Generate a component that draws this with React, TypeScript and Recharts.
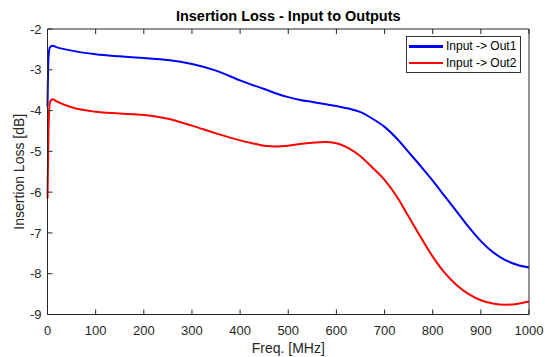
import { LineChart, Line, XAxis, YAxis, Legend } from 'recharts'

// frequency points (MHz) and insertion loss (dB)
const freq = [0, 2, 5, 10, 20, 50, 100, 150, 200, 250, 300, 350, 400, 425, 450, 475, 500, 525, 550, 575, 600, 625, 650, 675, 700, 725, 750, 775, 800, 825, 850, 875, 900, 925, 950, 975, 1000]
const out1 = [-3.9, -2.7, -2.45, -2.41, -2.45, -2.53, -2.62, -2.67, -2.71, -2.76, -2.86, -3.02, -3.26, -3.37, -3.47, -3.58, -3.67, -3.74, -3.79, -3.84, -3.89, -3.95, -4.04, -4.2, -4.4, -4.68, -5.02, -5.36, -5.72, -6.1, -6.48, -6.86, -7.2, -7.47, -7.66, -7.78, -7.85]
const out2 = [-6.15, -4.5, -3.8, -3.72, -3.78, -3.92, -4.03, -4.07, -4.11, -4.2, -4.37, -4.56, -4.73, -4.8, -4.86, -4.88, -4.86, -4.82, -4.79, -4.77, -4.8, -4.92, -5.12, -5.4, -5.7, -6.1, -6.6, -7.1, -7.58, -7.98, -8.28, -8.5, -8.65, -8.73, -8.76, -8.74, -8.68]

const xTicks = [0, 100, 200, 300, 400, 500, 600, 700, 800, 900, 1000]
const yTicks = [-9, -8, -7, -6, -5, -4, -3, -2]

const AXIS = '#262626'
const FONT = '"Liberation Sans", Arial, Helvetica, sans-serif'

const data = freq.map((f, i) => ({ f, out1: out1[i], out2: out2[i] }))

function BottomTick({ x, y, payload }: any) {
  return (
    <g>
      <line x1={x} y1={y} x2={x} y2={y - 5} stroke={AXIS} />
      <text x={x} y={y + 20.5} textAnchor="middle" fontSize={13} fill={AXIS} fontFamily={FONT}>{payload.value}</text>
    </g>
  )
}

function TopTick({ x, y }: any) {
  return <line x1={x} y1={y} x2={x} y2={y + 5} stroke={AXIS} />
}

function LeftTick({ x, y, payload }: any) {
  return (
    <g>
      <line x1={x} y1={y} x2={x + 5} y2={y} stroke={AXIS} />
      <text x={x - 6} y={y + 4.7} textAnchor="end" fontSize={13} fill={AXIS} fontFamily={FONT}>{payload.value}</text>
    </g>
  )
}

function RightTick({ x, y }: any) {
  return <line x1={x} y1={y} x2={x - 5} y2={y} stroke={AXIS} />
}

function LegendBox({ payload }: any) {
  return (
    <div style={{ border: '1px solid #333', background: '#fff', padding: '1px 4px 1px 2px', fontFamily: FONT }}>
      {(payload || []).map((p: any) => (
        <div key={p.value} style={{ display: 'flex', alignItems: 'center', height: 16.5 }}>
          <span style={{ display: 'inline-block', width: 34, height: 2.5, background: p.color, marginRight: 3 }} />
          <span style={{ fontSize: 12, color: '#000', lineHeight: '14px' }}>{p.value}</span>
        </div>
      ))}
    </div>
  )
}

export default function App() {
  return (
    <div style={{ position: 'absolute', left: 0, top: 0, background: '#fff' }}>
      <LineChart width={545} height={357} data={data} margin={{ top: 28, right: 15, bottom: 0, left: 0 }}>
        <XAxis
          dataKey="f" type="number" domain={[0, 1000]} ticks={xTicks} height={42.5}
          axisLine={{ stroke: AXIS }} tickLine={false} tickSize={0} tickMargin={0} tick={<BottomTick />}
          label={{
            content: ({ viewBox }: any) => (
              <text x={viewBox.x + viewBox.width / 2} y={353} textAnchor="middle" fontSize={14} fill={AXIS} fontFamily={FONT}>Freq. [MHz]</text>
            ),
          }}
        />
        <XAxis
          xAxisId="top" orientation="top" dataKey="f" type="number" domain={[0, 1000]} ticks={xTicks} height={1}
          axisLine={{ stroke: AXIS }} tickLine={false} tickSize={0} tickMargin={0} tick={<TopTick />}
          label={{
            content: ({ viewBox }: any) => (
              <text x={viewBox.x + viewBox.width / 2} y={21} textAnchor="middle" fontSize={14.5} fontWeight="bold" fill="#000" fontFamily={FONT}>Insertion Loss - Input to Outputs</text>
            ),
          }}
        />
        <YAxis
          type="number" domain={[-9, -2]} ticks={yTicks} width={47.5}
          axisLine={{ stroke: AXIS }} tickLine={false} tickSize={0} tickMargin={0} tick={<LeftTick />}
          label={{
            content: ({ viewBox }: any) => {
              const cy = viewBox.y + viewBox.height / 2
              return (
                <text x={24} y={cy} transform={`rotate(-90 24 ${cy})`} textAnchor="middle" fontSize={14} fill={AXIS} fontFamily={FONT}>Insertion Loss [dB]</text>
              )
            },
          }}
        />
        <YAxis
          yAxisId="right" orientation="right" type="number" domain={[-9, -2]} ticks={yTicks} width={1}
          axisLine={{ stroke: AXIS }} tickLine={false} tickSize={0} tickMargin={0} tick={<RightTick />}
        />
        <Legend
          layout="horizontal" verticalAlign="middle" align="center"
          wrapperStyle={{ top: 36, left: 406, width: 'auto', height: 'auto' }}
          content={<LegendBox />}
        />
        <Line type="monotone" dataKey="out1" name="Input -> Out1" stroke="#0000ff" strokeWidth={2} dot={false} isAnimationActive={false} />
        <Line type="monotone" dataKey="out2" name="Input -> Out2" stroke="#ff0000" strokeWidth={2} dot={false} isAnimationActive={false} />
      </LineChart>
    </div>
  )
}
